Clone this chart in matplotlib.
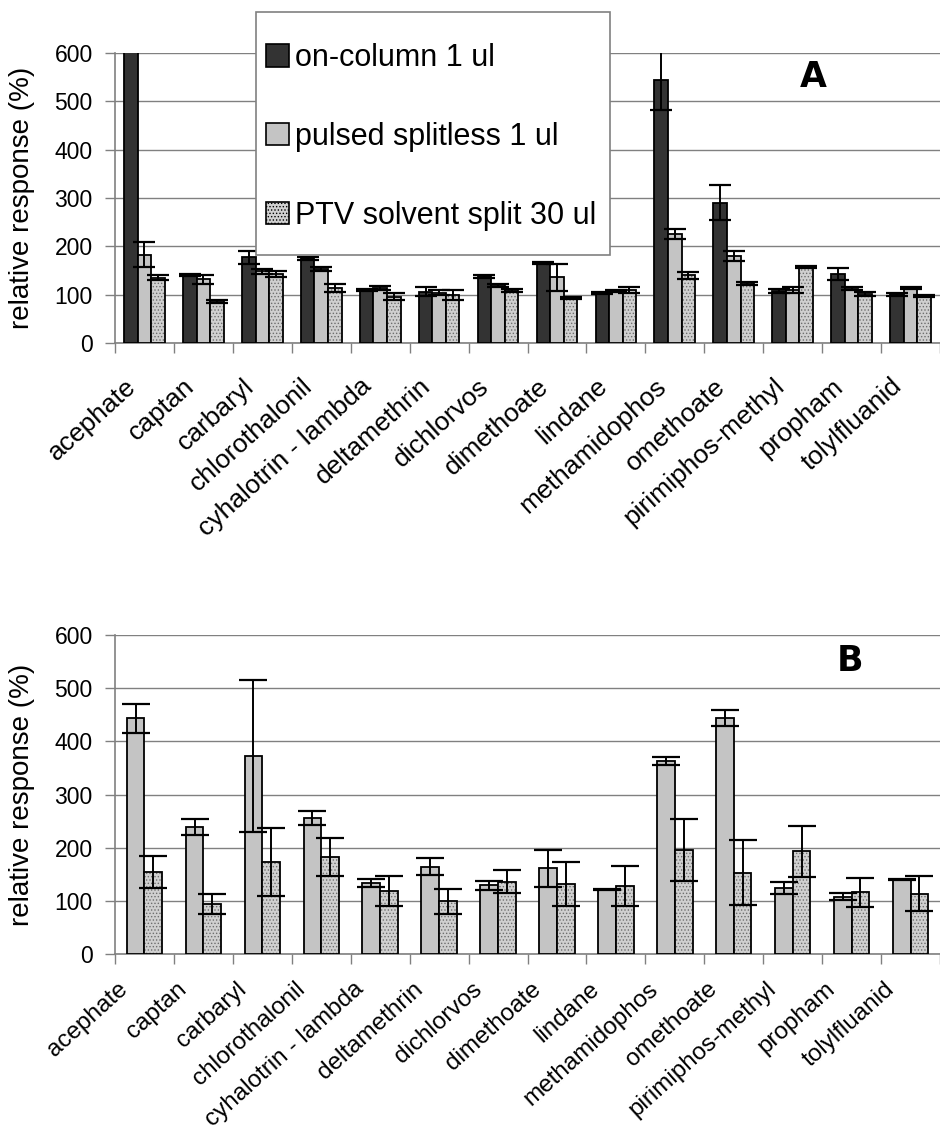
import matplotlib
matplotlib.use("Agg")
import matplotlib.pyplot as plt
import matplotlib.transforms as mtransforms
import numpy as np
from matplotlib.patches import Patch, Rectangle

plt.rcParams['font.family'] = ['Liberation Sans', 'DejaVu Sans']
plt.rcParams['hatch.linewidth'] = 0.6

# pesticides, one group of bars each
cats = ['acephate', 'captan', 'carbaryl', 'chlorothalonil', 'cyhalotrin - lambda',
        'deltamethrin', 'dichlorvos', 'dimethoate', 'lindane', 'methamidophos',
        'omethoate', 'pirimiphos-methyl', 'propham', 'tolylfluanid']

# panel A: three injection techniques
a_oncol = [610, 140, 177, 175, 109, 106, 138, 166, 104, 544, 290, 108, 143, 101]
a_oncol_err = [0, 2, 13, 3, 2, 9, 3, 2, 2, 62, 36, 4, 12, 3]
a_pulsed = [183, 132, 148, 153, 113, 104, 119, 136, 108, 226, 180, 110, 112, 114]
a_pulsed_err = [25, 9, 5, 4, 4, 5, 3, 28, 2, 10, 10, 6, 3, 2]
a_ptv = [135, 86, 143, 114, 96, 99, 109, 94, 109, 140, 124, 158, 101, 97]
a_ptv_err = [5, 3, 6, 8, 8, 11, 3, 2, 6, 7, 3, 2, 4, 2]

# panel B: pulsed splitless vs PTV
b_pulsed = [443, 238, 373, 256, 134, 164, 129, 161, 121, 363, 443, 124, 108, 140]
b_pulsed_err = [28, 15, 143, 13, 8, 16, 8, 35, 1, 7, 15, 11, 6, 1]
b_ptv = [155, 94, 173, 183, 118, 99, 136, 132, 128, 195, 153, 193, 116, 113]
b_ptv_err = [30, 19, 64, 36, 28, 23, 22, 41, 38, 58, 61, 48, 27, 33]

labels = ['on-column 1 ul', 'pulsed splitless 1 ul', 'PTV solvent split 30 ul']
yticks = [0, 100, 200, 300, 400, 500, 600]

DARK = '#333333'
LIGHT = '#c4c4c4'
PTV_FACE = '#d0d0d0'
PTV_DOTS = '#6e6e6e'
GRID = '#808080'

W, H = 940, 1145
fig = plt.figure(figsize=(W / 100, H / 100), dpi=100)
axA = fig.add_axes([115 / W, 1 - 343 / H, 825 / W, 290 / H])
axB = fig.add_axes([115 / W, 1 - 954 / H, 825 / W, 319 / H])

x = np.arange(len(cats)) + 0.5


def plain_bar(ax, xs, vals, errs, w, color, cap):
    ax.bar(xs, vals, w, color=color, edgecolor='black', linewidth=1.3, zorder=3)
    ax.errorbar(xs, vals, yerr=errs, fmt='none', ecolor='black', elinewidth=1.4,
                capsize=cap, capthick=1.6, zorder=4)


def dotted_bar(ax, xs, vals, errs, w, cap):
    # halftone fill first, then the black outline on top
    ax.bar(xs, vals, w, color=PTV_FACE, edgecolor=PTV_DOTS, hatch='.....',
           linewidth=0, zorder=3)
    ax.bar(xs, vals, w, fill=False, edgecolor='black', linewidth=1.3, zorder=3)
    ax.errorbar(xs, vals, yerr=errs, fmt='none', ecolor='black', elinewidth=1.4,
                capsize=cap, capthick=1.6, zorder=4)


wA = 0.23
plain_bar(axA, x - wA, a_oncol, a_oncol_err, wA, DARK, 8)
plain_bar(axA, x, a_pulsed, a_pulsed_err, wA, LIGHT, 8)
dotted_bar(axA, x + wA, a_ptv, a_ptv_err, wA, 8)

wB = 0.30
plain_bar(axB, x - wB / 2, b_pulsed, b_pulsed_err, wB, LIGHT, 10)
dotted_bar(axB, x + wB / 2, b_ptv, b_ptv_err, wB, 10)

# slanted category names, ending a bit left of each group centre
# (px offset and font size per panel; the lower one must fit above the page edge)
name_style = {axA: (-4, -31, 19), axB: (-12, -24, 17.5)}

for ax in (axA, axB):
    ax.set_xlim(0, len(cats))
    ax.set_ylim(0, 600)
    ax.set_yticks(yticks)
    ax.set_yticklabels([str(t) for t in yticks], fontsize=16.5)
    ax.set_xticks(np.arange(len(cats) + 1))
    ax.set_xticklabels([])
    ax.tick_params(axis='x', length=7, color=GRID, width=1)
    ax.tick_params(axis='y', length=7, color=GRID, width=1, pad=9)
    dx, dy, fs = name_style[ax]
    shift = mtransforms.ScaledTranslation(dx / 100, dy / 100, fig.dpi_scale_trans)
    for xi, name in zip(x, cats):
        ax.text(xi, 0, name, transform=ax.get_xaxis_transform() + shift,
                rotation=42, ha='right', va='top', fontsize=fs)
    ax.yaxis.grid(True, color=GRID, linewidth=1)
    ax.set_axisbelow(True)
    for s in ('top', 'right'):
        ax.spines[s].set_visible(False)
    for s in ('left', 'bottom'):
        ax.spines[s].set_color(GRID)
        ax.spines[s].set_linewidth(1.2)
    ax.set_ylabel('relative response (%)', fontsize=20, labelpad=14)

# legend box drawn as its own rectangle, legend entries placed inside it
box = Rectangle((256 / W, 1 - 255 / H), 354 / W, 243 / H, transform=fig.transFigure,
                facecolor='white', edgecolor=GRID, linewidth=1.2, zorder=9, clip_on=False)
axA.add_artist(box)

handles = [Patch(facecolor=DARK, edgecolor='black', linewidth=1.2),
           Patch(facecolor=LIGHT, edgecolor='black', linewidth=1.2),
           Patch(facecolor=PTV_FACE, edgecolor='black', hatch='.....', linewidth=1.2)]
leg = axA.legend(handles, labels, loc='upper left', bbox_to_anchor=(266 / W, 1 - 43 / H),
                 bbox_transform=fig.transFigure, borderaxespad=0, borderpad=0,
                 fontsize=22, frameon=False, handlelength=0.75, handleheight=0.75,
                 handletextpad=0.2, labelspacing=1.6)
leg.set_zorder(10)

fig.text(813 / W, 1 - 77 / H, 'A', fontsize=25, fontweight='heavy',
         family='DejaVu Sans', ha='center', va='center')
fig.text(850 / W, 1 - 661 / H, 'B', fontsize=25, fontweight='heavy',
         family='DejaVu Sans', ha='center', va='center')

fig.savefig('out.png', dpi=100)
